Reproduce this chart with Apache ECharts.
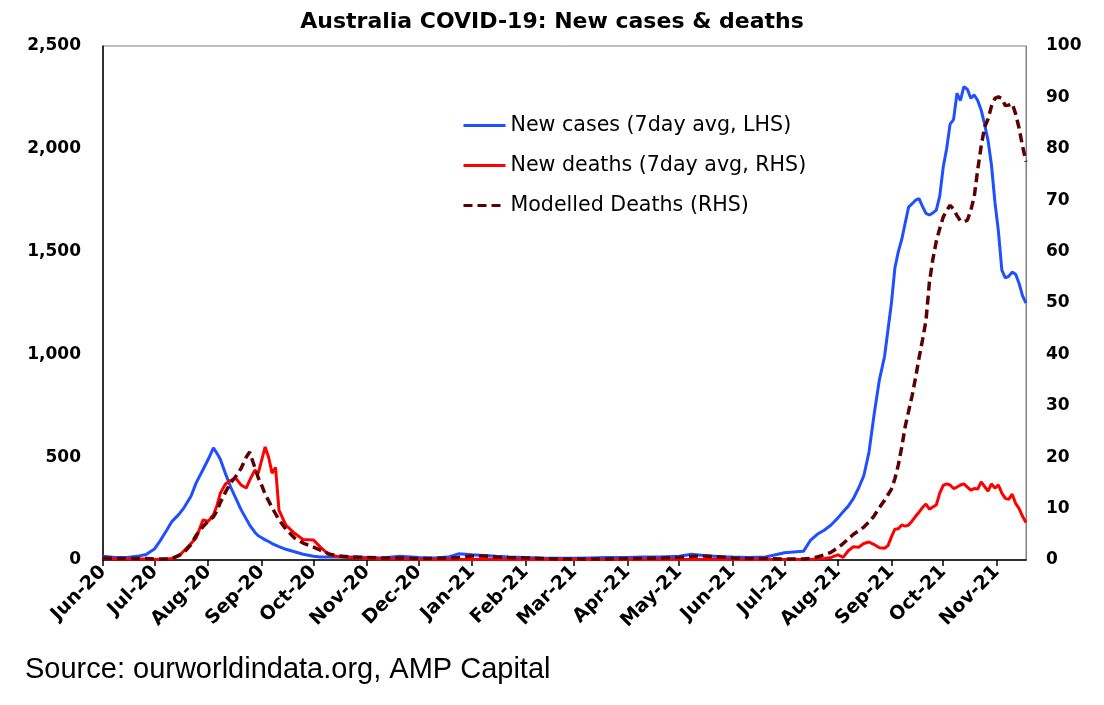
<!DOCTYPE html>
<html>
<head>
<meta charset="utf-8">
<script src="https://cdn.jsdelivr.net/npm/echarts@6.0.0/dist/echarts.min.js"></script>
<style>
  html, body { margin: 0; padding: 0; background: #ffffff; }
  #chart { width: 1104px; height: 705px; }
</style>
</head>
<body>
<div id="chart"></div>
<script>
// ---- data ----
const dates = [
  // 2020
  '2020-06-01','2020-06-08','2020-06-15','2020-06-22','2020-06-26',
  '2020-07-01','2020-07-04','2020-07-08','2020-07-11','2020-07-15','2020-07-18','2020-07-22','2020-07-25','2020-07-29',
  '2020-08-01','2020-08-04','2020-08-06','2020-08-08','2020-08-11','2020-08-14','2020-08-17','2020-08-20','2020-08-23','2020-08-25','2020-08-28','2020-08-30',
  '2020-09-01','2020-09-03','2020-09-05','2020-09-07','2020-09-09','2020-09-11','2020-09-15','2020-09-20','2020-09-25',
  '2020-10-01','2020-10-05','2020-10-10','2020-10-15','2020-10-22',
  '2020-11-01','2020-11-10','2020-11-20',
  '2020-12-01','2020-12-10','2020-12-18','2020-12-24',
  // 2021
  '2021-01-01','2021-01-08','2021-01-15','2021-01-22',
  '2021-02-01','2021-02-10','2021-02-20',
  '2021-03-01','2021-03-10','2021-03-20',
  '2021-04-01','2021-04-10','2021-04-20',
  '2021-05-01','2021-05-08','2021-05-15','2021-05-25',
  '2021-06-01','2021-06-10','2021-06-20',
  '2021-07-01','2021-07-08','2021-07-12','2021-07-16','2021-07-20','2021-07-24','2021-07-28',
  '2021-08-01','2021-08-04','2021-08-07','2021-08-10','2021-08-13','2021-08-16','2021-08-19','2021-08-22','2021-08-25','2021-08-28','2021-08-30',
  '2021-09-01','2021-09-03','2021-09-05','2021-09-07','2021-09-09','2021-09-11','2021-09-13','2021-09-15','2021-09-17','2021-09-19','2021-09-21','2021-09-23','2021-09-25','2021-09-27','2021-09-29',
  '2021-10-01','2021-10-03','2021-10-05','2021-10-07','2021-10-09','2021-10-11','2021-10-13','2021-10-15','2021-10-17','2021-10-19','2021-10-21','2021-10-23','2021-10-25','2021-10-27','2021-10-29','2021-10-31',
  '2021-11-02','2021-11-04','2021-11-06','2021-11-08','2021-11-10','2021-11-12','2021-11-14','2021-11-16','2021-11-18'
];

const newCases = [
  18, 12, 12, 20, 27,
  55, 92, 146, 188, 222, 255, 310, 375, 440,
  490, 545, 520, 490, 420, 355, 300, 245, 200, 170, 135, 118,
  108, 98, 90, 80, 72, 65, 52, 40, 28,
  18, 15, 14, 16, 15,
  12, 10, 18,
  12, 10, 14, 30,
  25, 22, 18, 15,
  12, 10, 8,
  8, 10, 12,
  12, 14, 14,
  18, 28, 22, 16,
  14, 12, 15,
  35, 40, 42, 95, 125, 145, 170,
  205, 235, 262, 300, 350, 410, 525, 710, 875, 990, 1120,
  1250, 1420, 1500, 1560, 1640, 1718, 1733, 1750, 1758, 1720, 1686, 1678, 1688, 1702, 1770,
  1910, 2000, 2120, 2142, 2270, 2235, 2302, 2290, 2246, 2262, 2235, 2189, 2120, 2040, 1920, 1740,
  1600, 1410, 1372, 1380, 1400, 1390, 1345, 1285, 1250
];

const newDeaths = [
  0.3, 0.2, 0.2, 0.2, 0.2,
  0.1, 0.1, 0.2, 0.3, 0.8, 1.8, 3.2, 4.3, 7.8,
  7.5, 8.8, 10.5, 13.0, 14.8, 15.5, 15.9, 14.6, 14.0, 15.5, 17.5, 16.9,
  19.5, 22.0, 20.0, 16.9, 18.0, 9.7, 6.8, 5.2, 4.0,
  3.9, 2.5, 1.0, 0.7, 0.5,
  0.3, 0.2, 0.2,
  0.1, 0.1, 0.1, 0.1,
  0.1, 0.2, 0.1, 0.1,
  0.1, 0.1, 0.1,
  0.1, 0.1, 0.1,
  0.1, 0.1, 0.1,
  0.1, 0.1, 0.1, 0.1,
  0.1, 0.1, 0.1,
  0.1, 0.1, 0.1, 0.1, 0.2, 0.3, 0.5,
  1.0, 0.5, 1.8, 2.6, 2.5, 3.2, 3.5, 3.0, 2.4, 2.3, 2.8,
  4.5, 6.0, 6.1, 6.8, 6.6, 6.8, 7.6, 8.5, 9.3, 10.2, 10.9, 9.9, 10.3, 10.7, 13.0,
  14.5, 14.8, 14.6, 13.9, 14.2, 14.6, 14.8, 14.2, 13.6, 13.9, 13.8, 15.2, 14.3, 13.4, 14.8, 14.0,
  14.6, 13.0, 12.0, 11.8, 12.8, 11.0, 10.0, 8.5, 7.3
];

const modelledDeaths = [
  0.4, 0.3, 0.3, 0.3, 0.3,
  0.2, 0.2, 0.2, 0.3, 0.9, 1.5, 3.0, 4.8, 6.5,
  7.6, 8.4, 9.5, 11.2, 13.2, 15.0, 16.3, 17.8, 20.0, 21.0, 18.0, 16.0,
  14.5, 12.8, 11.5, 10.2, 9.0, 7.8, 6.0, 4.3, 3.3,
  2.5, 1.9, 1.2, 0.8, 0.6,
  0.5, 0.4, 0.4,
  0.3, 0.3, 0.4, 0.5,
  0.8, 0.8, 0.6, 0.5,
  0.4, 0.3, 0.2,
  0.2, 0.2, 0.2,
  0.3, 0.3, 0.4,
  0.5, 0.7, 0.8, 0.6,
  0.4, 0.3, 0.3,
  0.2, 0.2, 0.2, 0.3, 0.6, 1.0, 1.5,
  2.4, 3.2, 4.1, 5.0, 5.7, 6.4, 7.4, 8.6, 10.2, 11.6, 12.7,
  13.8, 15.8, 18.5, 22.0, 26.0, 29.0, 32.0, 35.5, 39.3, 42.8, 46.5, 54.0, 58.5, 62.0, 64.5,
  66.7, 68.0, 69.0, 68.3, 67.0, 66.0, 65.8, 66.1, 68.0, 70.7, 75.9, 80.5, 84.2, 85.8, 88.3, 89.8,
  90.1, 89.8, 88.4, 88.5, 88.8, 86.8, 84.0, 80.5, 77.5
];

const monthNames = ['Jan','Feb','Mar','Apr','May','Jun','Jul','Aug','Sep','Oct','Nov','Dec'];
const seriesNames = ['New cases (7day avg, LHS)', 'New deaths (7day avg, RHS)', 'Modelled Deaths (RHS)'];
const titleText = 'Australia COVID-19: New cases & deaths';
const sourceText = 'Source: ourworldindata.org, AMP Capital';
const xStart = '2020-06-01';
const xEnd = '2021-11-18';

// ---- chart ----
const chart = echarts.init(document.getElementById('chart'), null, { renderer: 'canvas' });
const axisFont = { fontFamily: 'DejaVu Sans', fontWeight: 'bold', fontSize: 17, color: '#000' };

const pair = (vals) => dates.map((d, i) => [d, vals[i]]);

chart.setOption({
  animation: false,
  backgroundColor: '#ffffff',
  title: {
    text: titleText,
    left: 'center',
    top: 6,
    textStyle: { fontFamily: 'DejaVu Sans', fontWeight: 'bold', fontSize: 22, color: '#000' }
  },
  legend: {
    orient: 'vertical',
    left: 457,
    top: 110,
    itemWidth: 42,
    itemHeight: 14,
    itemGap: 19,
    itemStyle: { opacity: 0 },
    lineStyle: { width: 3 },
    textStyle: { fontFamily: 'DejaVu Sans', fontSize: 20.6, color: '#000' },
    data: seriesNames
  },
  grid: {
    left: 103, right: 78, top: 46, bottom: 145,
    show: true, borderColor: '#808080', borderWidth: 1, backgroundColor: 'transparent'
  },
  xAxis: {
    type: 'time',
    min: xStart,
    max: xEnd,
    splitNumber: 17,
    minInterval: 28 * 86400000,
    maxInterval: 31 * 86400000,
    axisLine: { show: true, lineStyle: { color: '#000', width: 1.5 } },
    axisTick: { show: true, length: 6, lineStyle: { color: '#000', width: 1.5 } },
    splitLine: { show: false },
    minorTick: { show: false },
    axisLabel: Object.assign({}, axisFont, {
      fontSize: 19,
      rotate: 45,
      margin: 9,
      hideOverlap: false,
      showMaxLabel: false,
      formatter: function (val) {
        const d = new Date(val);
        if (d.getDate() !== 1) return '';
        return monthNames[d.getMonth()] + '-' + String(d.getFullYear()).slice(2);
      }
    })
  },
  yAxis: [
    {
      type: 'value', min: 0, max: 2500, interval: 500,
      axisLine: { show: true, lineStyle: { color: '#000', width: 1.5 } },
      axisTick: { show: false },
      splitLine: { show: false },
      axisLabel: Object.assign({}, axisFont, {
        margin: 22,
        formatter: (v) => v.toLocaleString('en-US')
      })
    },
    {
      type: 'value', min: 0, max: 100, interval: 10,
      position: 'right',
      axisLine: { show: true, lineStyle: { color: '#808080', width: 1 } },
      axisTick: { show: false },
      splitLine: { show: false },
      axisLabel: Object.assign({}, axisFont, { margin: 20 })
    }
  ],
  series: [
    {
      name: seriesNames[0], type: 'line', yAxisIndex: 0,
      data: pair(newCases),
      symbol: 'none', showSymbol: false,
      lineStyle: { color: '#1F50FF', width: 3 },
      itemStyle: { color: '#1F50FF' },
      z: 3
    },
    {
      name: seriesNames[1], type: 'line', yAxisIndex: 1,
      data: pair(newDeaths),
      symbol: 'none', showSymbol: false,
      lineStyle: { color: '#FF0000', width: 3 },
      itemStyle: { color: '#FF0000' },
      z: 4
    },
    {
      name: seriesNames[2], type: 'line', yAxisIndex: 1,
      data: pair(modelledDeaths),
      symbol: 'none', showSymbol: false,
      lineStyle: { color: '#5C0000', width: 3.5, type: [9, 5] },
      itemStyle: { color: '#5C0000' },
      z: 5
    }
  ],
  graphic: [
    {
      type: 'text',
      left: 25,
      top: 655,
      style: { text: sourceText, fontFamily: 'Liberation Sans, Arial', fontSize: 29, fill: '#000' }
    }
  ]
});
</script>
</body>
</html>
